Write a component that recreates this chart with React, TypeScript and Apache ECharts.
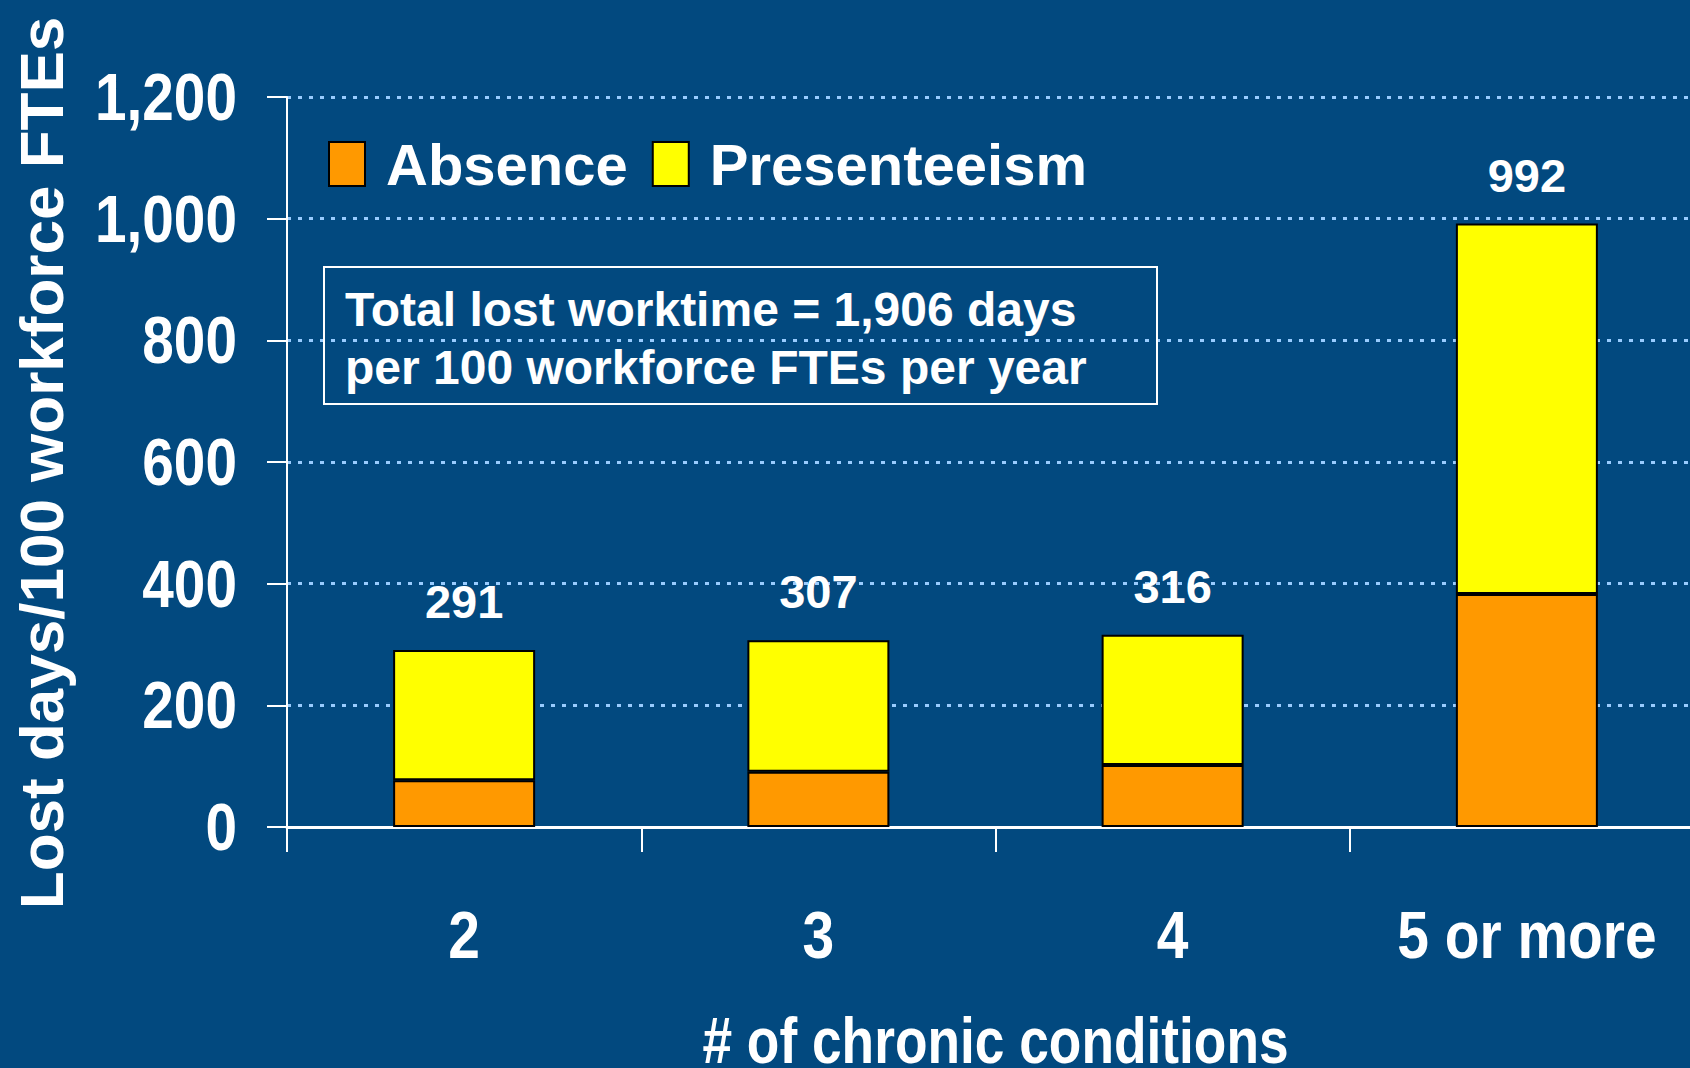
import React, { useEffect, useRef } from "react";
import * as echarts from "echarts";

const categories = ["2", "3", "4", "5 or more"];
const absence = [77, 91, 102, 383];
const presenteeism = [214, 216, 214, 609];
const yMin = 0;
const yMax = 1200;
const yInterval = 200;
const xAxisTitle = "# of chronic conditions";
const yAxisTitle = "Lost days/100 workforce FTEs";

const REG = '"Liberation Sans", Arial, sans-serif';
const BG = "#02497F";

export default function App() {
  const ref = useRef<HTMLDivElement>(null);
  useEffect(() => {
    document.body.style.margin = "0";
    document.body.style.overflow = "hidden";
    const chart = echarts.init(ref.current!, null, { renderer: "svg" });
    const totals = absence.map((a, i) => a + presenteeism[i]);
    const grand = totals.reduce((s, v) => s + v, 0);
    chart.setOption({
      animation: false,
      backgroundColor: BG,
      grid: {
        left: 287,
        top: 97,
        bottom: 241,
        right: -14,
        containLabel: false,
        outerBoundsMode: "none",
      },
      legend: {
        left: 328,
        top: 135,
        padding: 0,
        itemWidth: 36,
        itemHeight: 44,
        itemGap: 24,
        icon: "rect",
        textStyle: {
          color: "#fff",
          fontSize: 58,
          fontWeight: "bold",
          fontFamily: REG,
          padding: [0, 0, 0, 16],
        },
        data: ["Absence", "Presenteeism"],
      },
      xAxis: {
        type: "category",
        data: categories,
        axisLine: { show: true, lineStyle: { color: "#fff", width: 3 } },
        axisTick: { show: true, interval: 0, length: 25, lineStyle: { color: "#fff", width: 2 } },
        axisLabel: { show: false, interval: 0 },
      },
      yAxis: {
        type: "value",
        min: yMin,
        max: yMax,
        interval: yInterval,
        axisLine: { show: true, lineStyle: { color: "#fff", width: 2 } },
        axisTick: { show: true, length: 20, lineStyle: { color: "#fff", width: 2 } },
        axisLabel: { show: false },
        splitLine: { show: true, lineStyle: { color: "#99CCFF", width: 3, type: [4, 7] } },
      },
      series: [
        {
          name: "Absence",
          type: "bar",
          stack: "total",
          data: absence,
          barWidth: 142,
          itemStyle: { color: "#FF9900", borderColor: "#000", borderWidth: 2 },
        },
        {
          name: "Presenteeism",
          type: "bar",
          stack: "total",
          data: presenteeism,
          barWidth: 142,
          itemStyle: { color: "#FFFF00", borderColor: "#000", borderWidth: 2 },
          label: {
            show: true,
            position: "top",
            distance: 25,
            color: "#fff",
            fontSize: 47,
            fontWeight: "bold",
            fontFamily: REG,
            formatter: (p: any) => totals[p.dataIndex].toLocaleString("en-US"),
          },
        },
      ],
    });

    const graphics: any[] = [];
    // y tick labels, positioned by the axis scale
    for (let v = yMin; v <= yMax; v += yInterval) {
      const y = chart.convertToPixel({ yAxisIndex: 0 }, v) as number;
      graphics.push({
        type: "text",
        x: 237,
        y,
        scaleX: 0.86,
        z: 10,
        style: {
          text: v.toLocaleString("en-US"),
          fill: "#fff",
          font: `bold 66px ${REG}`,
          align: "right",
          verticalAlign: "middle",
        },
      });
    }
    // x category labels
    categories.forEach((c) => {
      const x = chart.convertToPixel({ xAxisIndex: 0 }, c) as number;
      graphics.push({
        type: "text",
        x,
        y: 935,
        scaleX: 0.85,
        z: 10,
        style: {
          text: c,
          fill: "#fff",
          font: `bold 67px ${REG}`,
          align: "center",
          verticalAlign: "middle",
        },
      });
    });
    // x axis title, centred on the axis
    const x0 = chart.convertToPixel({ xAxisIndex: 0 }, categories[0]) as number;
    const x3 = chart.convertToPixel({ xAxisIndex: 0 }, categories[categories.length - 1]) as number;
    graphics.push({
      type: "text",
      x: (x0 + x3) / 2,
      y: 1041,
      scaleX: 0.82,
      z: 10,
      style: {
        text: xAxisTitle,
        fill: "#fff",
        font: `bold 65px ${REG}`,
        align: "center",
        verticalAlign: "middle",
      },
    });
    // y axis title
    graphics.push({
      type: "text",
      x: 41,
      y: 463,
      rotation: Math.PI / 2,
      z: 10,
      style: {
        text: yAxisTitle,
        fill: "#fff",
        font: `bold 62px ${REG}`,
        align: "center",
        verticalAlign: "middle",
      },
    });
    // annotation box
    graphics.push({
      type: "rect",
      shape: { x: 324, y: 267, width: 833, height: 137 },
      style: { fill: "none", stroke: "#fff", lineWidth: 2 },
      z: 10,
    });
    graphics.push({
      type: "text",
      x: 345,
      y: 338,
      z: 10,
      style: {
        text: `Total lost worktime = ${grand.toLocaleString("en-US")} days\nper 100 workforce FTEs per year`,
        fill: "#fff",
        font: `bold 48px ${REG}`,
        lineHeight: 58,
        align: "left",
        verticalAlign: "middle",
      },
    });
    chart.setOption({ graphic: graphics });
    return () => chart.dispose();
  }, []);
  return <div ref={ref} style={{ width: 1690, height: 1068 }} />;
}
